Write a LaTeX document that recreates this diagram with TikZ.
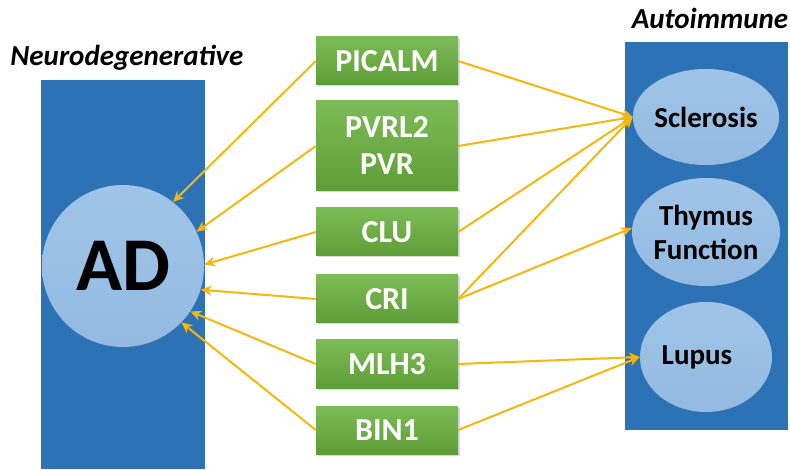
\documentclass[tikz,border=0pt]{standalone}
\usepackage{fontspec}
\setmainfont{Carlito}
\usetikzlibrary{arrows.meta,shapes.geometric,shadows}
\definecolor{barblue}{RGB}{46,114,182}
\definecolor{discblue}{RGB}{160,196,233}
\definecolor{discblue2}{RGB}{148,186,225}
\definecolor{genetop}{RGB}{124,188,86}
\definecolor{genebot}{RGB}{94,156,55}
\definecolor{linkgold}{RGB}{246,182,12}

\begin{document}
\begin{tikzpicture}[x=1pt,y=-1pt,
    gene/.style={rectangle, minimum width=142pt, minimum height=48pt,
      top color=genetop, bottom color=genebot, text=white, align=center,
      font=\fontsize{32}{37}\selectfont\bfseries,
      drop shadow={shadow xshift=1.5pt, shadow yshift=-1.5pt, opacity=.3}},
    disease/.style={ellipse, inner sep=0pt, top color=discblue, bottom color=discblue2,
      align=center, font=\fontsize{29}{34}\selectfont\bfseries},
    title/.style={font=\fontsize{29}{32}\selectfont\bfseries\itshape},
    link/.style={draw=linkgold, line width=2pt, -{Stealth[length=11pt,width=10pt]}}]
  \useasboundingbox (0,0) rectangle (790,470);

  % the two groups
  \fill[barblue] (41,80) rectangle (205,469);
  \fill[barblue] (625,42) rectangle (788,430);
  \node[title] (neuro) at (127,58) {Neurodegenerative};
  \node[title] (auto) at (710,18) {Autoimmune};

  \node[circle, minimum size=162pt, inner sep=0pt, top color=discblue, bottom color=discblue2,
    font=\fontsize{76}{80}\selectfont\bfseries] (ad) at (123,266) {AD};

  \node[disease, minimum width=130pt, minimum height=96pt] (scl) at (706,117) {Sclerosis};
  \node[disease, minimum width=130pt, minimum height=108pt] (thy) at (706,232) {Thymus\\Function};
  \node[disease, minimum width=132pt, minimum height=110pt] (lup) at (706,357) {\hspace*{-18pt}Lupus};

  % genes
  \node[gene] (picalm) at (387,61) {PICALM};
  \node[gene, minimum height=90pt] (pvrl) at (387,146) {PVRL2\\PVR};
  \node[gene] (clu) at (387,232) {CLU};
  \node[gene] (cri) at (387,299) {CRI};
  \node[gene] (mlh) at (387,364) {MLH3};
  \node[gene] (bin) at (387,430) {BIN1};

  % links to AD
  \draw[link] (picalm.west) -- (ad.52);
  \draw[link] (pvrl.west) -- (ad.25);
  \draw[link] (clu.west) -- (ad.1);
  \draw[link] (cri.west) -- (ad.-17);
  \draw[link] (mlh.west) -- (ad.-34);
  \draw[link] (bin.west) -- (ad.-44);

  % links to autoimmune diseases
  \draw[link] (picalm.east) -- (scl.west);
  \draw[link] (pvrl.east) -- (scl.west);
  \draw[link] (clu.east) -- (scl.west);
  \draw[link] (cri.east) -- (scl.west);
  \draw[link] (cri.east) -- ([yshift=4pt]thy.west);
  \draw[link] (mlh.east) -- (lup.west);
  \draw[link] (bin.east) -- (lup.west);
\end{tikzpicture}
\end{document}
